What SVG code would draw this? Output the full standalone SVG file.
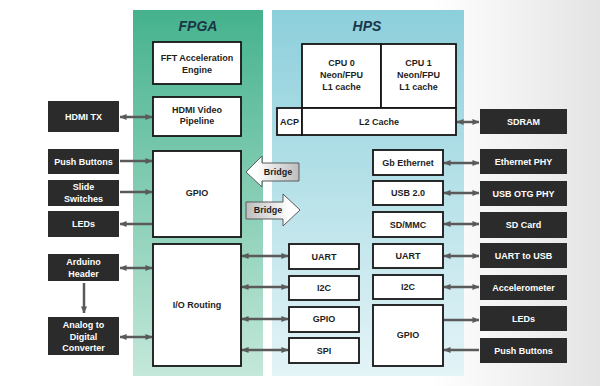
<svg xmlns="http://www.w3.org/2000/svg" width="600" height="386" viewBox="0 0 600 386">
<defs>
<linearGradient id="bg" x1="0" y1="0" x2="1" y2="0">
<stop offset="0" stop-color="#ffffff"/>
<stop offset="0.72" stop-color="#ffffff"/>
<stop offset="1" stop-color="#e4e4e4"/>
</linearGradient>
<linearGradient id="fpgaG" x1="0" y1="0" x2="0" y2="1">
<stop offset="0" stop-color="#45b28d"/>
<stop offset="1" stop-color="#c4e8da"/>
</linearGradient>
<linearGradient id="hpsG" x1="0" y1="0" x2="0" y2="1">
<stop offset="0" stop-color="#8ccfdb"/>
<stop offset="1" stop-color="#e4f4f7"/>
</linearGradient>
<linearGradient id="brL" x1="0" y1="0" x2="1" y2="0">
<stop offset="0.2" stop-color="#ffffff"/>
<stop offset="1" stop-color="#bdbdbd"/>
</linearGradient>
<linearGradient id="brR" x1="0" y1="0" x2="1" y2="0">
<stop offset="0" stop-color="#bdbdbd"/>
<stop offset="0.8" stop-color="#ffffff"/>
</linearGradient>
<marker id="ah" viewBox="0 0 8 8" refX="7.5" refY="4" markerWidth="7" markerHeight="7" markerUnits="userSpaceOnUse" orient="auto-start-reverse">
<path d="M0,0.5 L8,4 L0,7.5 z" fill="#5a5a5a"/>
</marker>
<style>
.wb{fill:#ffffff;stroke:#151515;stroke-width:1.8}
.db{fill:#2b2b2b}
.t{font-family:"Liberation Sans",Arial,sans-serif;font-weight:bold;font-size:9px;text-anchor:middle;fill:#1e1e1e}
.tw{font-family:"Liberation Sans",Arial,sans-serif;font-weight:bold;font-size:9px;text-anchor:middle;fill:#ffffff}
.title{font-family:"Liberation Sans",Arial,sans-serif;font-weight:bold;font-style:italic;font-size:14px;text-anchor:middle;fill:#1b3646}
.c{stroke:#5a5a5a;stroke-width:2.5;fill:none}
.bi{marker-start:url(#ah);marker-end:url(#ah)}
.one{marker-end:url(#ah)}
.br{stroke:#5a5a5a;stroke-width:1}
</style>
</defs>
<rect x="0" y="0" width="600" height="386" fill="url(#bg)"/>

<g id="fpga-panel">
<rect x="133" y="10" width="130" height="366" fill="url(#fpgaG)"/>
<text class="title" x="198" y="31">FPGA</text>
</g>
<g id="hps-panel">
<rect x="272" y="10" width="192" height="366" fill="url(#hpsG)"/>
<text class="title" x="367" y="31">HPS</text>
</g>

<g id="connectors">
<line class="c bi" x1="120" y1="117" x2="152" y2="117"/>
<line class="c one" x1="120" y1="161" x2="152" y2="161"/>
<line class="c one" x1="120" y1="192" x2="152" y2="192"/>
<line class="c one" x1="152" y1="224" x2="120" y2="224"/>
<line class="c bi" x1="120" y1="268" x2="152" y2="268"/>
<line class="c bi" x1="120" y1="337" x2="152" y2="337"/>
<line class="c one" x1="84" y1="283" x2="84" y2="313"/>
<line class="c bi" x1="242" y1="256" x2="288" y2="256"/>
<line class="c bi" x1="242" y1="287" x2="288" y2="287"/>
<line class="c bi" x1="242" y1="319" x2="288" y2="319"/>
<line class="c bi" x1="242" y1="350" x2="288" y2="350"/>
<line class="c bi" x1="457" y1="122" x2="479" y2="122"/>
<line class="c bi" x1="444" y1="163" x2="479" y2="163"/>
<line class="c bi" x1="444" y1="193" x2="479" y2="193"/>
<line class="c bi" x1="444" y1="224" x2="479" y2="224"/>
<line class="c bi" x1="444" y1="256" x2="479" y2="256"/>
<line class="c bi" x1="444" y1="287" x2="479" y2="287"/>
<line class="c one" x1="444" y1="320" x2="479" y2="320"/>
<line class="c one" x1="479" y1="350" x2="444" y2="350"/>
</g>

<g id="bridge-h2f">
<path class="br" d="M246,172 L262,156 L262,163 L299,163 L299,181 L262,181 L262,187 Z" fill="url(#brL)"/>
<text class="t" x="278" y="175">Bridge</text>
</g>
<g id="bridge-f2h">
<path class="br" d="M246,202 L283,202 L283,194 L300,210 L283,226 L283,219 L246,219 Z" fill="url(#brR)"/>
<text class="t" x="268" y="213">Bridge</text>
</g>

<g id="fft">
<rect class="wb" x="153" y="42" width="88" height="42"/>
<text class="t" x="197" y="61">FFT Acceleration</text>
<text class="t" x="197" y="73">Engine</text>
</g>
<g id="hdmi-pipeline">
<rect class="wb" x="153" y="97" width="88" height="39"/>
<text class="t" x="197" y="113">HDMI Video</text>
<text class="t" x="197" y="124">Pipeline</text>
</g>
<g id="fpga-gpio">
<rect class="wb" x="153" y="151" width="88" height="86"/>
<text class="t" x="197" y="196">GPIO</text>
</g>
<g id="io-routing">
<rect class="wb" x="153" y="244" width="88" height="122"/>
<text class="t" x="197" y="308">I/O Routing</text>
</g>

<g id="hdmi-tx">
<rect class="db" x="48" y="101" width="71" height="31"/>
<text class="tw" x="83.5" y="120">HDMI TX</text>
</g>
<g id="push-buttons-l">
<rect class="db" x="48" y="149" width="71" height="25"/>
<text class="tw" x="83.5" y="165">Push Buttons</text>
</g>
<g id="slide-switches">
<rect class="db" x="48" y="180" width="71" height="26"/>
<text class="tw" x="83.5" y="190">Slide</text>
<text class="tw" x="83.5" y="202">Switches</text>
</g>
<g id="leds-l">
<rect class="db" x="48" y="211" width="71" height="26"/>
<text class="tw" x="83.5" y="227">LEDs</text>
</g>
<g id="arduino">
<rect class="db" x="48" y="254" width="71" height="27"/>
<text class="tw" x="83.5" y="265">Arduino</text>
<text class="tw" x="83.5" y="277">Header</text>
</g>
<g id="adc">
<rect class="db" x="48" y="317" width="71" height="38"/>
<text class="tw" x="83.5" y="328">Analog to</text>
<text class="tw" x="83.5" y="340">Digital</text>
<text class="tw" x="83.5" y="351">Converter</text>
</g>

<g id="cpu0">
<rect class="wb" x="302" y="44" width="79" height="64"/>
<text class="t" x="341.5" y="66">CPU 0</text>
<text class="t" x="341.5" y="78">Neon/FPU</text>
<text class="t" x="341.5" y="90">L1 cache</text>
</g>
<g id="cpu1">
<rect class="wb" x="381" y="44" width="75" height="64"/>
<text class="t" x="418.5" y="66">CPU 1</text>
<text class="t" x="418.5" y="78">Neon/FPU</text>
<text class="t" x="418.5" y="90">L1 cache</text>
</g>
<g id="acp">
<rect class="wb" x="277" y="108" width="25" height="27"/>
<text class="t" x="289.5" y="125">ACP</text>
</g>
<g id="l2">
<rect class="wb" x="302" y="108" width="154" height="27"/>
<text class="t" x="379" y="125">L2 Cache</text>
</g>

<g id="gbe">
<rect class="wb" x="373" y="150" width="70" height="25"/>
<text class="t" x="408" y="166">Gb Ethernet</text>
</g>
<g id="usb">
<rect class="wb" x="373" y="181" width="70" height="24"/>
<text class="t" x="408" y="196">USB 2.0</text>
</g>
<g id="sdmmc">
<rect class="wb" x="373" y="212" width="70" height="25"/>
<text class="t" x="408" y="228">SD/MMC</text>
</g>
<g id="uart-r">
<rect class="wb" x="373" y="244" width="70" height="24"/>
<text class="t" x="408" y="259">UART</text>
</g>
<g id="i2c-r">
<rect class="wb" x="373" y="275" width="70" height="24"/>
<text class="t" x="408" y="290">I2C</text>
</g>
<g id="hps-gpio">
<rect class="wb" x="373" y="305" width="70" height="61"/>
<text class="t" x="408" y="338">GPIO</text>
</g>

<g id="uart-l">
<rect class="wb" x="289" y="244" width="70" height="25"/>
<text class="t" x="324" y="260">UART</text>
</g>
<g id="i2c-l">
<rect class="wb" x="289" y="276" width="70" height="24"/>
<text class="t" x="324" y="291">I2C</text>
</g>
<g id="gpio-l">
<rect class="wb" x="289" y="307" width="70" height="25"/>
<text class="t" x="324" y="322">GPIO</text>
</g>
<g id="spi">
<rect class="wb" x="289" y="338" width="70" height="25"/>
<text class="t" x="324" y="354">SPI</text>
</g>

<g id="sdram">
<rect class="db" x="480" y="109" width="87" height="25"/>
<text class="tw" x="523.5" y="125">SDRAM</text>
</g>
<g id="eth-phy">
<rect class="db" x="480" y="149" width="87" height="25"/>
<text class="tw" x="523.5" y="165">Ethernet PHY</text>
</g>
<g id="usb-otg">
<rect class="db" x="480" y="181" width="87" height="25"/>
<text class="tw" x="523.5" y="197">USB OTG PHY</text>
</g>
<g id="sdcard">
<rect class="db" x="480" y="212" width="87" height="26"/>
<text class="tw" x="523.5" y="228">SD Card</text>
</g>
<g id="uart-usb">
<rect class="db" x="480" y="243" width="87" height="25"/>
<text class="tw" x="523.5" y="259">UART to USB</text>
</g>
<g id="accel">
<rect class="db" x="480" y="275" width="87" height="25"/>
<text class="tw" x="523.5" y="291">Accelerometer</text>
</g>
<g id="leds-r">
<rect class="db" x="480" y="306" width="87" height="25"/>
<text class="tw" x="523.5" y="322">LEDs</text>
</g>
<g id="push-buttons-r">
<rect class="db" x="480" y="338" width="87" height="25"/>
<text class="tw" x="523.5" y="354">Push Buttons</text>
</g>
</svg>
